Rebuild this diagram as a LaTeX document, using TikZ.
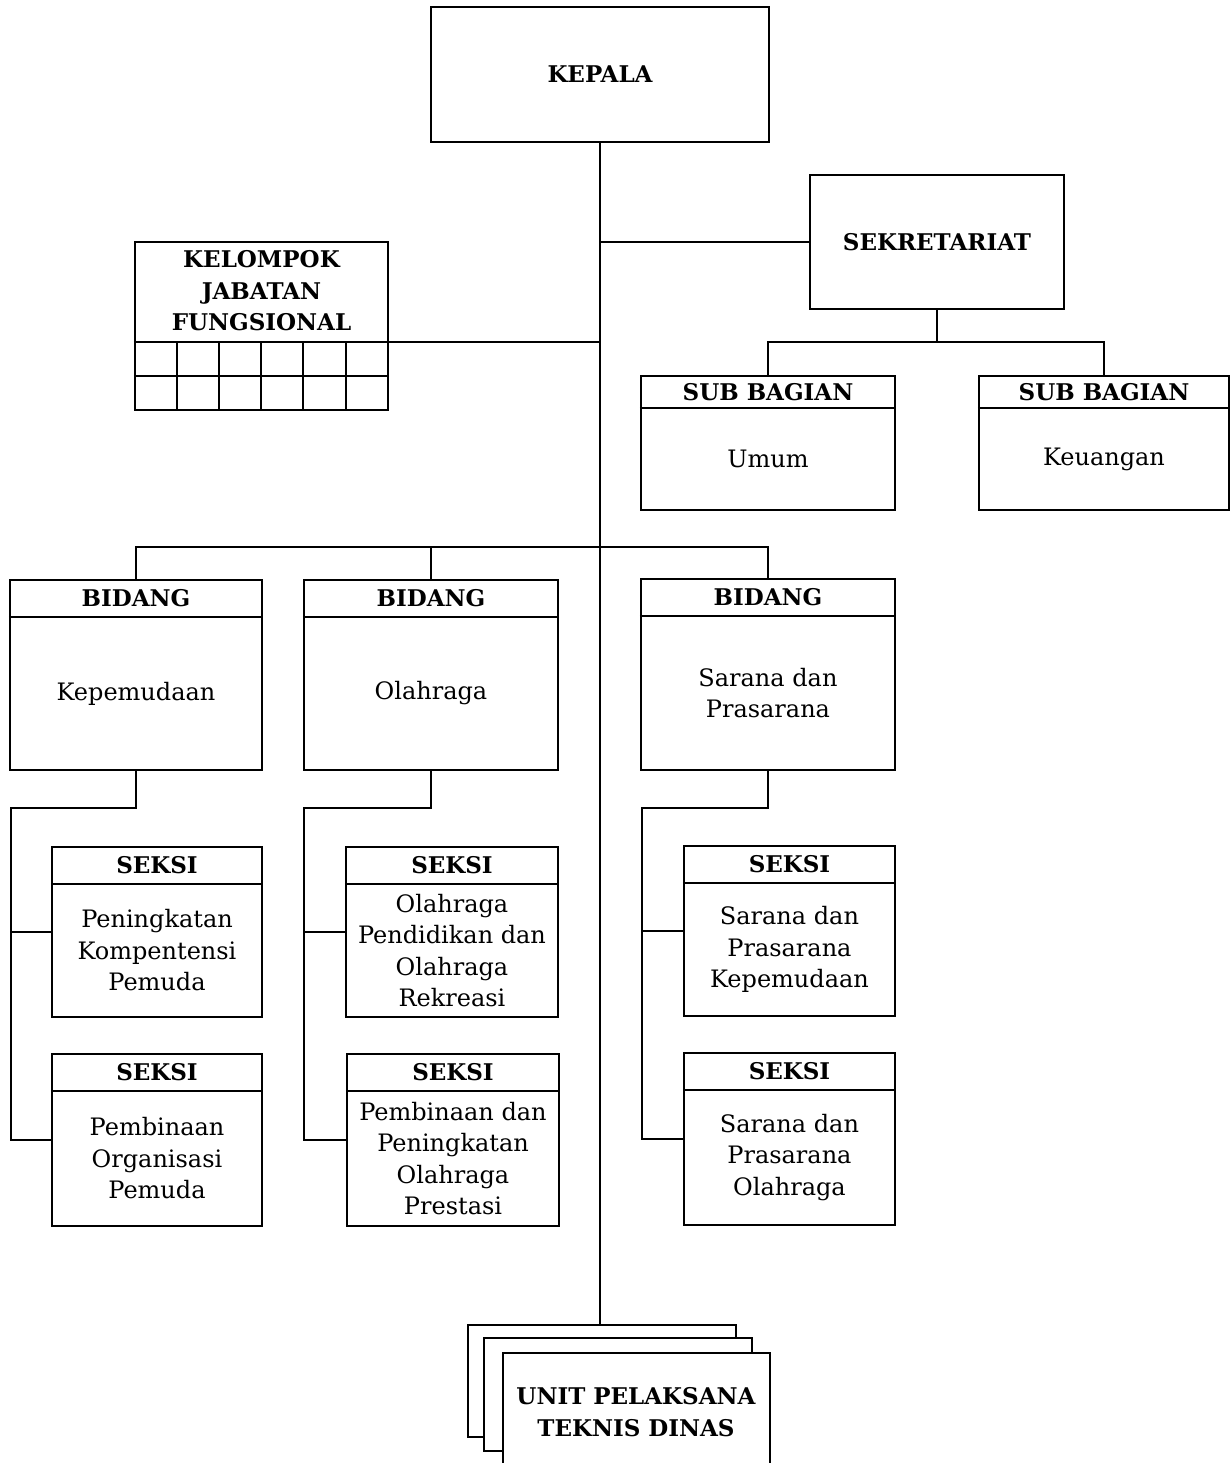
\documentclass[tikz,border=0pt]{standalone}
\usepackage{fontspec}
\setmainfont{DejaVu Serif}
\usetikzlibrary{fit,calc}
\begin{document}
\begin{tikzpicture}[x=0.5pt,y=-0.5pt,
  ln/.style={line width=1.1pt},
  boxst/.style={draw, line width=1.1pt, inner sep=0pt, fill=white},
  hd/.style={font=\fontsize{11.5}{15.75}\selectfont\bfseries, align=center, inner sep=0pt},
  bd/.style={font=\fontsize{12}{15.75}\selectfont, align=center, inner sep=0pt}]
\newcommand\hbx[8]{%
  \node[boxst, fit={(#2,#3)(#4,#5)}] (#1) {};
  \draw[ln] (#1.west |- 0,#6) -- (#1.east |- 0,#6);
  \node[hd] (#1-h) at ($(#2,#3)!0.5!(#4,#6)$) {#7};
  \node[bd] (#1-b) at ($(#2,#6)!0.5!(#4,#5)$) {#8};}
\fill[white] (0,0) rectangle (1231,1463);
\useasboundingbox (0,0) rectangle (1231,1463);
\clip (0,0) rectangle (1231,1463);

% KEPALA
\node[boxst, fit={(431,7)(769,142)}] (kepala) {};
\node[hd] (kepala-t) at (kepala.center) {KEPALA};

% SEKRETARIAT
\node[boxst, fit={(810,175)(1064,309)}] (sekr) {};
\node[hd] (sekr-t) at (sekr.center) {SEKRETARIAT};

% KELOMPOK JABATAN FUNGSIONAL
\node[boxst, fit={(135,242)(388,410)}] (kel) {};
\draw[ln] (kel.west |- 0,342) -- (kel.east |- 0,342);
\draw[ln] (kel.west |- 0,376) -- (kel.east |- 0,376);
\foreach \xx in {177,219,261,303,346} \draw[ln] (\xx,342) -- (\xx,410);
\node[hd] (kel-t) at (261.5,291) {KELOMPOK\\JABATAN\\FUNGSIONAL};
\coordinate (kelR) at (388,342);

% SUB BAGIAN
\hbx{umum}{641}{376}{895}{510}{408}{SUB BAGIAN}{Umum}
\hbx{keu}{979}{376}{1229}{510}{408}{SUB BAGIAN}{Keuangan}

% BIDANG
\hbx{bid1}{10}{580}{262}{770}{617}{BIDANG}{Kepemudaan}
\hbx{bid2}{304}{580}{558}{770}{617}{BIDANG}{Olahraga}
\hbx{bid3}{641}{579}{895}{770}{616}{BIDANG}{Sarana dan\\Prasarana}

% SEKSI
\hbx{s11}{52}{847}{262}{1017}{884}{SEKSI}{Peningkatan\\Kompentensi\\Pemuda}
\hbx{s12}{52}{1054}{262}{1226}{1091}{SEKSI}{Pembinaan\\Organisasi\\Pemuda}
\hbx{s21}{346}{847}{558}{1017}{884}{SEKSI}{Olahraga\\Pendidikan dan\\Olahraga\\Rekreasi}
\hbx{s22}{347}{1054}{559}{1226}{1091}{SEKSI}{Pembinaan dan\\Peningkatan\\Olahraga\\Prestasi}
\hbx{s31}{684}{846}{895}{1016}{883}{SEKSI}{Sarana dan\\Prasarana\\Kepemudaan}
\hbx{s32}{684}{1053}{895}{1225}{1090}{SEKSI}{Sarana dan\\Prasarana\\Olahraga}

% UPT stack
\node[boxst, fit={(468,1325)(736,1437)}] (upt1) {};
\node[boxst, fit={(484,1338)(752,1451)}] (upt2) {};
\node[boxst, fit={(503,1353)(770,1471)}] (upt3) {};
\node[hd] (upt-t) at (636,1412) {UNIT PELAKSANA\\TEKNIS DINAS};

% connectors
\draw[ln] (kepala.south) -- (kepala.south |- upt1.north);
\draw[ln] (sekr.west) -- (sekr.west -| kepala.south);
\draw[ln] (kelR) -- (kelR -| kepala.south);
\coordinate (sb) at (937,342);
\draw[ln] (sekr.south) -- (sekr.south |- sb);
\draw[ln] (umum.north) |- (sb) -| (keu.north);
\coordinate (bus) at (600,547);
\draw[ln] (bid1.north) |- (bus) -| (bid3.north);
\draw[ln] (bid2.north) -- (bid2.north |- bus);

\coordinate (sp1) at (11,808);
\draw[ln] (bid1.south) |- (sp1) |- (s12.west);
\draw[ln] (sp1 |- s11.west) -- (s11.west);
\coordinate (sp2) at (304,808);
\draw[ln] (bid2.south) |- (sp2) |- (s22.west);
\draw[ln] (sp2 |- s21.west) -- (s21.west);
\coordinate (sp3) at (642,808);
\draw[ln] (bid3.south) |- (sp3) |- (s32.west);
\draw[ln] (sp3 |- s31.west) -- (s31.west);
\end{tikzpicture}
\end{document}
